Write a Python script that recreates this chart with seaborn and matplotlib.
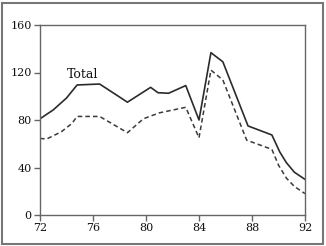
import numpy as np
import pandas as pd
import seaborn as sns
import matplotlib.pyplot as plt
from matplotlib.patches import Rectangle

sns.set_style("white")
plt.rcParams['font.family'] = ['DejaVu Serif']

# values
total_year = [72, 73.0, 74.0, 74.8, 76.5, 78.6, 80.35, 80.9, 81.7, 83.0, 84.0, 84.9, 85.8, 87.7, 89.5, 90.1, 90.6, 91.2, 92]
total_val = [81, 88.5, 98.5, 109.5, 110.3, 95, 107.5, 103, 102.5, 109, 80, 136.7, 129, 75, 67.4, 53, 44, 36, 30]

other_year = [72, 72.5, 73.6, 74.4, 74.8, 76.5, 78.6, 79.8, 81.0, 83.0, 84.0, 84.9, 85.8, 87.6, 89.5, 90.0, 90.6, 91.2, 92]
other_val = [64.5, 64, 70, 77, 83, 83, 69.3, 81, 86, 90.7, 65, 122, 113.7, 63, 55.3, 42, 31, 24, 18]

df_total = pd.DataFrame({'year': total_year, 'value': total_val})
df_other = pd.DataFrame({'year': other_year, 'value': other_val})

fig = plt.figure(figsize=(3.26, 2.46), dpi=100)
ax = fig.add_axes([40/326, 31/246, 265/326, 190/246])

sns.lineplot(data=df_total, x='year', y='value', ax=ax, color='#2b2b2b', lw=1.2)
sns.lineplot(data=df_other, x='year', y='value', ax=ax, color='#3a3a3a', lw=1.1,
             linestyle=(0, (3, 2)))

ax.text(74.0, 118, 'Total', fontsize=9, color='#111111', va='center', ha='left')

ax.set_xlim(72, 92)
ax.set_ylim(0, 160)
ax.set_xticks([72, 76, 80, 84, 88, 92])
ax.set_yticks([0, 40, 80, 120, 160])
ax.set_xlabel('')
ax.set_ylabel('')
for s in ax.spines.values():
    s.set_visible(True)
    s.set_color('#666666')
    s.set_linewidth(1.0)
ax.tick_params(axis='both', length=4, width=1, color='#666666', labelsize=8,
               labelcolor='#111111', pad=2, bottom=True, left=True)

fig.patches.append(Rectangle((2/326, 2/246), 321/326, 241/246, transform=fig.transFigure,
                             fill=False, edgecolor='#777777', lw=1.5))

fig.savefig('out.png', dpi=100)
